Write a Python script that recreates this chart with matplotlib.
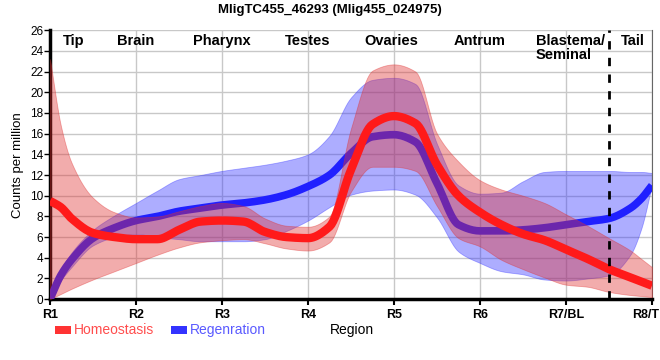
#!/usr/bin/env python3
"""
Expression profile along the body regions (homeostasis vs regeneration).
"""

import numpy as np
import matplotlib
matplotlib.use('Agg')
import matplotlib.pyplot as plt
import matplotlib.transforms as mtransforms
from matplotlib.patches import Rectangle

# region positions where values were read (R1 = 1 ... R8/T = 8)
region_pos = [1.0, 1.125, 1.25, 1.5, 1.75, 2.0, 2.25, 2.5, 2.75, 3.0, 3.25, 3.5, 3.75,
              4.0, 4.25, 4.5, 4.75, 5.0, 5.25, 5.5, 5.75, 6.0, 6.25, 6.5, 6.75,
              7.0, 7.25, 7.5, 7.75, 7.875, 8.0]

homeo_mean = [9.5, 8.9, 7.8, 6.4, 6.0, 5.8, 5.8, 6.7, 7.5, 7.6, 7.5, 6.5, 6.0,
              5.9, 7.0, 12.5, 16.9, 17.7, 17.0, 13.0, 10.0, 8.4, 7.2, 6.3, 5.7,
              4.8, 3.9, 2.9, 2.1, 1.7, 1.3]
homeo_upper = [23.2, 16.8, 13.2, 9.8, 8.4, 7.9, 8.0, 8.5, 9.0, 9.3, 9.0, 7.8, 7.1,
               7.0, 8.0, 16.5, 22.1, 22.7, 22.0, 16.0, 13.3, 11.5, 10.6, 10.0, 9.3,
               8.2, 7.1, 5.9, 4.7, 3.9, 3.1]
homeo_lower = [0.0, 0.5, 1.0, 1.9, 2.7, 3.5, 4.3, 5.0, 5.5, 5.7, 5.8, 5.4, 4.9,
               4.7, 5.5, 10.4, 12.8, 12.8, 12.4, 9.0, 5.9, 5.1, 3.8, 2.9, 2.1,
               1.4, 1.2, 0.7, 0.4, 0.3, 0.2]

regen_mean = [0.0, 2.3, 3.8, 5.9, 6.9, 7.6, 8.0, 8.5, 8.8, 9.1, 9.3, 9.6, 10.1,
              10.9, 12.0, 14.1, 15.7, 15.9, 15.2, 11.2, 7.2, 6.6, 6.6, 6.7, 6.9,
              7.2, 7.5, 7.8, 8.8, 9.7, 11.0]
regen_upper = [0.0, 2.8, 4.5, 6.7, 8.1, 9.3, 10.5, 11.6, 12.0, 12.4, 12.7, 13.0, 13.4,
               14.0, 15.8, 19.5, 21.2, 21.4, 20.8, 15.0, 11.0, 10.2, 10.3, 11.4, 12.3,
               12.4, 12.4, 12.4, 12.3, 12.3, 12.2]
regen_lower = [0.0, 1.8, 3.1, 5.2, 6.0, 6.3, 6.0, 5.8, 5.6, 5.6, 5.6, 5.8, 6.6,
               7.6, 8.9, 10.1, 10.5, 10.6, 10.1, 7.9, 4.6, 3.5, 2.7, 2.4, 1.9,
               1.8, 2.0, 2.3, 4.3, 6.8, 11.0]

tick_labels = ['R1', 'R2', 'R3', 'R4', 'R5', 'R6', 'R7/BL', 'R8/T']
region_names = ['Tip', 'Brain', 'Pharynx', 'Testes', 'Ovaries', 'Antrum', 'Blastema/\nSeminal', 'Tail']
name_pos = [1.15, 2.0, 3.0, 4.0, 4.97, 6.0, 6.65, 7.78]
name_align = ['left', 'center', 'center', 'center', 'center', 'center', 'left', 'center']


def smooth(x, y, n=12):
    """Monotone cubic (PCHIP) curve through the read points, for drawing only."""
    x = np.asarray(x, float)
    y = np.asarray(y, float)
    h = np.diff(x)
    d = np.diff(y) / h
    m = np.zeros_like(y)
    for k in range(1, len(x) - 1):
        if d[k - 1] * d[k] > 0:
            w1 = 2 * h[k] + h[k - 1]
            w2 = h[k] + 2 * h[k - 1]
            m[k] = (w1 + w2) / (w1 / d[k - 1] + w2 / d[k])
    m[0] = d[0]
    m[-1] = d[-1]
    xs, ys = [], []
    for k in range(len(x) - 1):
        t = np.linspace(0, 1, n, endpoint=False)
        h00 = 2 * t**3 - 3 * t**2 + 1
        h10 = t**3 - 2 * t**2 + t
        h01 = -2 * t**3 + 3 * t**2
        h11 = t**3 - t**2
        xs.append(x[k] + t * h[k])
        ys.append(h00 * y[k] + h10 * h[k] * m[k] + h01 * y[k + 1] + h11 * h[k] * m[k + 1])
    xs.append([x[-1]])
    ys.append([y[-1]])
    return np.concatenate(xs), np.concatenate(ys)


plt.rcParams['font.family'] = ['Liberation Sans', 'DejaVu Sans']

fig = plt.figure(figsize=(6.6, 3.6), dpi=100)
ax = fig.add_axes([0.0758, 0.169, 0.912, 0.747])

# regeneration first, homeostasis band drawn over it
xs, lo = smooth(region_pos, regen_lower)
_, hi = smooth(region_pos, regen_upper)
ax.fill_between(xs, lo, hi, facecolor='#3333ff', alpha=0.4, edgecolor='#3333ff', linewidth=0.6, zorder=2)
_, mid = smooth(region_pos, regen_mean)
ax.plot(xs, mid, color='#2020ff', linewidth=5.5, solid_capstyle='butt', solid_joinstyle='round', zorder=3)

xs, lo = smooth(region_pos, homeo_lower)
_, hi = smooth(region_pos, homeo_upper)
ax.fill_between(xs, lo, hi, facecolor='#e03030', alpha=0.4, edgecolor='#e03030', linewidth=0.6, zorder=4)
_, mid = smooth(region_pos, homeo_mean)
ax.plot(xs, mid, color='#ff1a1a', linewidth=6, solid_capstyle='butt', solid_joinstyle='round', zorder=5)

ax.axvline(7.5, color='black', linestyle=(0, (3, 3)), linewidth=2, zorder=6)

ax.set_xlim(1, 8)
ax.set_ylim(0, 26)
ax.set_xticks(range(1, 9))
ax.set_xticklabels(tick_labels, fontsize=9, fontweight='bold')
ax.set_yticks(range(0, 27, 2))
ax.tick_params(axis='y', labelsize=8.5, length=4, width=1, pad=1)
ax.tick_params(axis='x', length=4, width=1.5, pad=3)
ax.grid(True, color='#c8c8c8', linewidth=1)
ax.set_axisbelow(True)

# last tick label sits at the right edge; nudge it in so it is not clipped
last = ax.get_xticklabels()[-1]
last.set_transform(last.get_transform() + mtransforms.ScaledTranslation(-6 / 100, 0, fig.dpi_scale_trans))

ax.spines['top'].set_visible(False)
ax.spines['right'].set_color('#666666')
ax.spines['right'].set_linewidth(0.8)
ax.spines['left'].set_linewidth(2.5)
ax.spines['bottom'].set_linewidth(2.5)

ax.set_ylabel('Counts per million', fontsize=9.5, labelpad=4)

for name, pos, ha in zip(region_names, name_pos, name_align):
    ax.text(pos, 25.6, name, ha=ha, va='top', fontsize=10.5, fontweight='bold',
            linespacing=1.0, zorder=7)

fig.suptitle('MligTC455_46293 (Mlig455_024975)', fontsize=9.5, fontweight='bold', y=0.99)

# legend row under the axis
W, H = 660.0, 360.0
legend_items = [('Homeostasis', '#ff3333', '#ff4d4d', 55), ('Regenration', '#3333ff', '#5a5aff', 171)]
for label, patch_col, text_col, x0 in legend_items:
    fig.add_artist(Rectangle((x0 / W, (H - 334) / H), 16 / W, 8 / H, transform=fig.transFigure,
                             facecolor=patch_col, edgecolor='none'))
    fig.text((x0 + 19) / W, (H - 330) / H, label, ha='left', va='center', fontsize=10, color=text_col)
fig.text(352 / W, (H - 330) / H, 'Region', ha='center', va='center', fontsize=10)

plt.savefig('out.png', dpi=100)
plt.close()
